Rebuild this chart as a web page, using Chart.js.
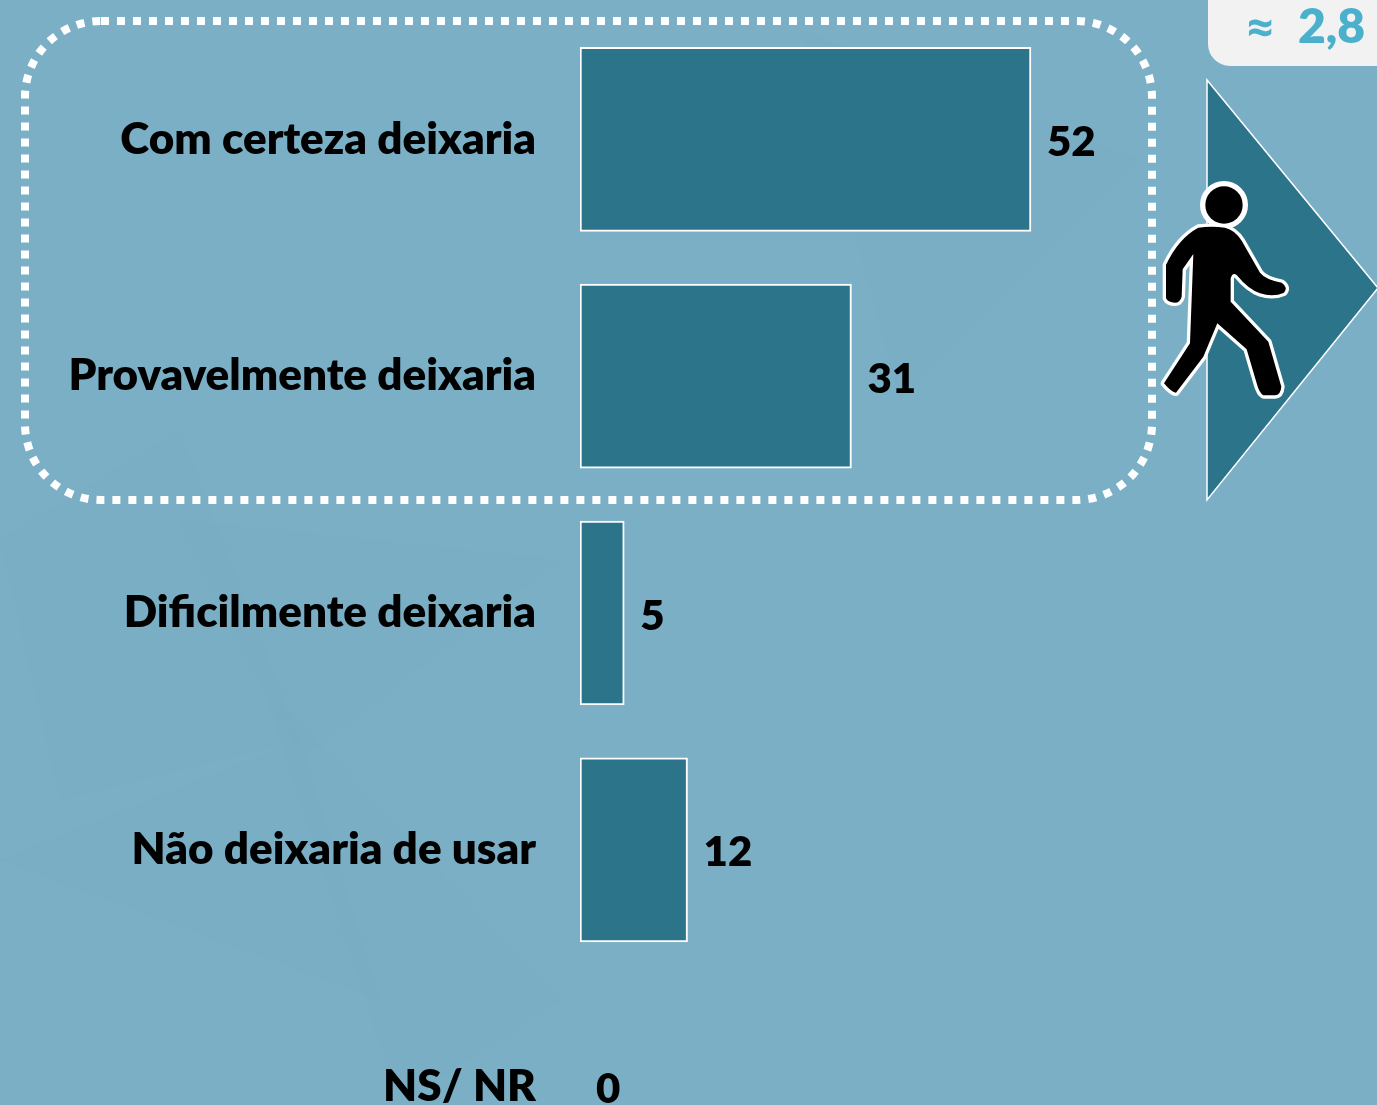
<!DOCTYPE html>
<html><head><meta charset="utf-8">
<style>html,body{margin:0;padding:0;overflow:hidden;background:#7aafc6}
#w{position:relative;width:1377px;height:1105px;overflow:hidden}
canvas{display:block}</style>
<script src="https://cdn.jsdelivr.net/npm/chart.js@4"></script>
</head><body><div id="w"><canvas id="c" width="1377" height="1260"></canvas></div>
<script>
const categories = ["Com certeza deixaria","Provavelmente deixaria","Dificilmente deixaria","Não deixaria de usar","NS/ NR"];
const values = [52,31.3,5.1,12.4,0];
const badgeSymbol = "≈";
const badgeValue = "2,8";
const FONT = "Lato, 'Open Sans', sans-serif";
const DARK = "#2b7489";

const backdrop = {
  id:"backdrop",
  beforeDraw(chart){
    const c = chart.ctx; c.save();
    c.fillStyle="#7aafc6"; c.fillRect(0,0,1377,1260);
    const facets=[[[0,540],[180,430],[300,740],[60,800]],[[180,520],[560,560],[300,760]],[[260,680],[560,1000],[400,1105]],[[800,30],[1140,160],[900,400]],[[0,860],[300,740],[380,1000]]];
    c.fillStyle="rgba(110,165,190,0.07)";
    facets.forEach(f=>{c.beginPath();f.forEach((p,i)=>i?c.lineTo(p[0],p[1]):c.moveTo(p[0],p[1]));c.closePath();c.fill();});
    c.restore();
  }
};

const valueLabels = {
  id:"valueLabels",
  afterDatasetsDraw(chart){
    const c=chart.ctx, m=chart.getDatasetMeta(0);
    c.save();c.fillStyle="#000";c.font="800 42px "+FONT;c.textAlign="left";c.textBaseline="middle";
    m.data.forEach((b,i)=>c.fillText(String(Math.round(values[i])),b.x+16,b.y+3));
    c.restore();
  }
};

const decor = {
  id:"decor",
  afterDraw(chart){
    const c=chart.ctx; c.save();
    c.strokeStyle="#fff";c.lineWidth=8;c.setLineDash([8,8]);
    c.beginPath();c.roundRect(25,21,1127,479,76);c.stroke();c.setLineDash([]);
    c.fillStyle="#f2f2f2";c.beginPath();c.roundRect(1208,-30,200,96,22);c.fill();
    c.fillStyle="#4bb0cc";c.textBaseline="alphabetic";c.textAlign="left";
    c.font="800 48px "+FONT;c.fillText(badgeValue,1298,43);
    c.font="700 46px 'Open Sans', sans-serif";c.fillText(badgeSymbol,1247,44);
    c.fillStyle=DARK;c.strokeStyle="#fff";c.lineWidth=1.5;c.lineJoin="miter";
    c.beginPath();c.moveTo(1207,80);c.lineTo(1378,288);c.lineTo(1207,500);c.closePath();c.fill();c.stroke();
    c.translate(1140,0);c.scale(1/3,1/3);
    const body=new Path2D("M175 683Q215 678 255 683Q285 690 305 722L360 818Q375 838 425 848Q445 862 432 878Q400 892 360 880Q325 868 290 825Q278 815 272 835L272 905L385 1025L424 1160Q422 1185 405 1186L370 1186Q358 1180 350 1150L320 1048L232 970L190 1070L108 1178Q95 1178 72 1150L150 1030L160 762L128 808L125 890Q120 908 105 908Q85 908 78 895L78 795Q115 715 175 683Z");
    const head=new Path2D();head.arc(252,615,56,0,Math.PI*2);
    c.lineJoin="round";c.strokeStyle="#fff";c.lineWidth=20;c.stroke(body);c.lineWidth=32;c.stroke(head);
    c.fillStyle="#000";c.fill(body);c.fill(head);
    c.restore();
  }
};

new Chart(document.getElementById("c"),{
  type:"bar",
  data:{labels:categories,datasets:[{data:values,backgroundColor:DARK,borderColor:"#fff",borderWidth:2,borderSkipped:false,barThickness:184}]},
  options:{
    indexAxis:"y",responsive:false,animation:false,
    layout:{padding:{top:21,bottom:55,left:0,right:0}},
    plugins:{legend:{display:false},tooltip:{enabled:false}},
    scales:{
      x:{display:false,min:0,max:91.9,grid:{display:false}},
      y:{
        grid:{display:false},border:{display:false},
        afterFit(s){s.width=580;s.paddingTop=0;s.paddingBottom=0;},
        ticks:{autoSkip:false,color:"#000",padding:36,crossAlign:"near",font:{family:FONT,size:44,weight:"800"}}
      }
    }
  },
  plugins:[backdrop,valueLabels,decor]
});
</script></body></html>
